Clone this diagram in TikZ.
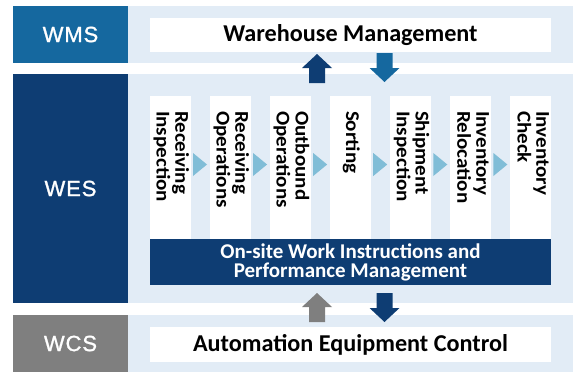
\documentclass[tikz,border=0pt]{standalone}
\usepackage{fontspec}
\setmainfont{Carlito}
\newfontfamily\lblfont[LetterSpace=4,FakeBold=1.2]{Liberation Sans}
\usepackage{graphicx}
\definecolor{wmsblue}{HTML}{15689F}
\definecolor{wesnavy}{HTML}{0E3D73}
\definecolor{wcsgray}{HTML}{7F7F7F}
\definecolor{bandlight}{HTML}{E2ECF6}
\definecolor{tricol}{HTML}{80BDD7}
\begin{document}
\begin{tikzpicture}[x=1pt,y=-1pt,
  blk/.style={rectangle, inner sep=0pt, outer sep=0pt, anchor=north west},
  syslabel/.style={blk, text=white, font=\lblfont\fontsize{22}{24}\selectfont, anchor=north west},
  band/.style={blk, fill=bandlight},
  whitebox/.style={blk, fill=white, font=\bfseries\fontsize{24.2}{26}\selectfont},
  colbox/.style={blk, fill=white, minimum width=40.5pt, minimum height=143pt},
  coltext/.style={inner sep=0pt, outer sep=0pt, anchor=west, rotate=-90, font=\bfseries\fontsize{19.5}{17}\selectfont},
  bartext/.style={text=white, align=center, font=\bfseries\fontsize{21}{19}\selectfont}]
\useasboundingbox (0,0) rectangle (573,372);
% bands
\node[syslabel, fill=wmsblue, minimum width=115pt, minimum height=57pt] (wms) at (13,6) {WMS};
\node[band, minimum width=445pt, minimum height=57pt] (wmsband) at (128,6) {};
\node[syslabel, fill=wesnavy, minimum width=115pt, minimum height=229pt] (wes) at (13,74) {WES};
\node[band, minimum width=445pt, minimum height=229pt] (wesband) at (128,74) {};
\node[syslabel, fill=wcsgray, minimum width=115pt, minimum height=57pt] (wcs) at (13,315) {WCS};
\node[band, minimum width=445pt, minimum height=57pt] (wcsband) at (128,315) {};
% white boxes
\node[whitebox, minimum width=401pt, minimum height=34pt] (wm) at (150,18) {Warehouse Management};
\node[whitebox, minimum width=401pt, minimum height=35pt] (aec) at (150,327) {Automation Equipment Control};
% columns
\foreach \i/\t in {0/{Receiving\\Inspection},1/{Receiving\\Operations},2/{Outbound\\Operations},3/{Sorting},4/{Shipment\\Inspection},5/{Inventory\\Relocation},6/{Inventory\\Check}}{
  \node[colbox] (col\i) at ({150+\i*60.08},96) {};
  \node[coltext] (txt\i) at ({170.25+\i*60.08},111) {\scalebox{1.08}[1]{\begin{tabular}{@{}l@{}}\t\end{tabular}}};
}
\foreach \i in {0,...,5}{
  \fill[tricol] ({193+\i*60.08},153) -- ++(14,11.5) -- ++(-14,11.5) -- cycle;
}
% bar
\node[blk, fill=wesnavy, minimum width=401pt, minimum height=46pt] (bar) at (150,239) {};
\node[bartext] (bartxt) at (bar.center) {On-site Work Instructions and\\Performance Management};
% arrows
\coordinate (ua) at (317,54);
\fill[wesnavy] (ua) -- ++(15,14) -- ++(-7,0) -- ++(0,15) -- ++(-16,0) -- ++(0,-15) -- ++(-7,0) -- cycle;
\coordinate (da) at (384.5,82);
\fill[wmsblue] (da) -- ++(15,-14) -- ++(-7,0) -- ++(0,-15) -- ++(-16,0) -- ++(0,15) -- ++(-7,0) -- cycle;
\coordinate (ub) at (317,293);
\fill[wcsgray] (ub) -- ++(15,14) -- ++(-7,0) -- ++(0,15) -- ++(-16,0) -- ++(0,-15) -- ++(-7,0) -- cycle;
\coordinate (db) at (384.5,322);
\fill[wesnavy] (db) -- ++(15,-14) -- ++(-7,0) -- ++(0,-15) -- ++(-16,0) -- ++(0,15) -- ++(-7,0) -- cycle;
\end{tikzpicture}
\end{document}
